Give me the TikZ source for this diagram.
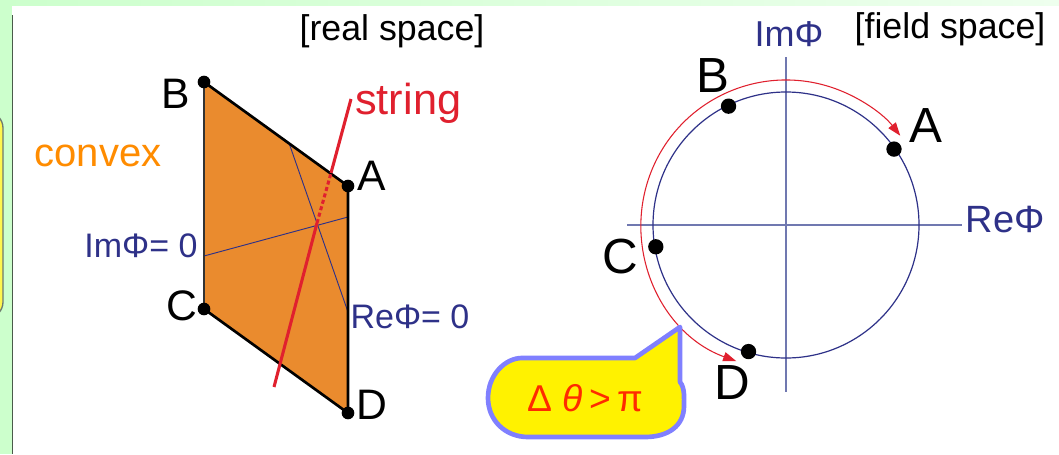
\documentclass[tikz,border=0pt]{standalone}
\usepackage{fontspec}
\setmainfont{Liberation Sans}
\usetikzlibrary{arrows.meta,calc}
\definecolor{bggreen}{HTML}{CCFFCC}
\definecolor{bggreenlt}{HTML}{EEFFEE}
\definecolor{edgegray}{HTML}{4A5A4A}
\definecolor{orangefill}{HTML}{EA8B2E}
\definecolor{navy}{HTML}{2E3188}
\definecolor{axisblue}{HTML}{7078B0}
\definecolor{strred}{HTML}{E0202E}
\definecolor{convexor}{HTML}{FF8C00}
\definecolor{callblue}{HTML}{8080FF}
\definecolor{callred}{HTML}{FF2A00}
\newcommand{\fs}[1]{\fontsize{#1}{#1}\selectfont}
\tikzset{
  lbl/.style={inner sep=0pt, font=\fs{32pt}},
  flbl/.style={inner sep=0pt, font=\fs{37pt}},
  navylbl/.style={inner sep=0pt, text=navy, font=\fs{25.5pt}},
  dotreal/.style={circle, fill=black, inner sep=0pt, minimum size=9.5pt},
  dotfield/.style={circle, fill=black, inner sep=0pt, minimum size=11.5pt},
  thinnavy/.style={navy, line width=0.7pt},
  axis/.style={axisblue, line width=1.1pt},
}
\begin{document}
\begin{tikzpicture}[x=0.75pt,y=-0.75pt]
\useasboundingbox (0,0) rectangle (1059,454);
% background
\fill[white] (0,0) rectangle (1059,454);
\shade[left color=bggreen, right color=bggreenlt] (0,0) rectangle (1059,5);
\fill[bggreen] (0,0) rectangle (12,454);
\begin{scope}
\clip (0,0) rectangle (12,454);
\draw[fill=yellow!70!white, draw=edgegray!80, line width=1pt, rounded corners=12pt] (-40,112) rectangle (3,318);
\end{scope}
\draw[edgegray, line width=1.2pt] (12.5,15) -- (12.5,454);

% ---------- real space ----------
\coordinate (B) at (204,82);
\coordinate (A) at (348,186);
\coordinate (D) at (348,413);
\coordinate (C) at (204,309);
\fill[orangefill] (B) -- (A) -- (D) -- (C) -- cycle;
\coordinate (imL) at (204,256);
\coordinate (imR) at (348,217);
\coordinate (reT) at (289,143);
\coordinate (reB) at (348,312);
\draw[thinnavy] (imL) -- (imR);
\draw[thinnavy] (reT) -- (reB);
\draw[black!80, line width=1.4pt] (B) -- (C);
\draw[black, line width=2pt, line join=round] (C) -- (D) -- (A) -- (B);
% string
\coordinate (sBot) at (274,387);
\coordinate (sMid) at (317,223);
\coordinate (sEdge) at (331,173);
\coordinate (sTop) at (351,99);
\draw[strred, line width=2.3pt] (sBot) -- (sMid);
\draw[strred, line width=2.3pt, dash pattern=on 3pt off 2pt] (sMid) -- (sEdge);
\draw[strred, line width=2.3pt] (sEdge) -- (sTop);
\node[dotreal] (dB) at (B) {};
\node[dotreal] (dA) at (A) {};
\node[dotreal] (dC) at (C) {};
\node[dotreal] (dD) at (D) {};
\node[lbl] (lB) at (176,94) {B};
\node[lbl] (lA) at (372,176) {A};
\node[lbl] (lC) at (182,306) {C};
\node[lbl] (lD) at (372,405) {D};
\node[inner sep=0pt, text=convexor, font=\fs{30pt}] (convex) at (98,156) {convex};
\node[inner sep=0pt, text=strred, font=\fs{32.5pt}, anchor=west] (string) at (355,103) {string};
\node[navylbl] (imz) at (141,246) {ImΦ= 0};
\node[navylbl] (rez) at (410,317) {ReΦ= 0};
\node[inner sep=0pt, font=\fs{26.8pt}] (realsp) at (392,31) {[real space]};

% ---------- field space ----------
\coordinate (O) at (786,225);
\coordinate (axL) at (627,225);
\coordinate (axR) at (962,225);
\coordinate (axT) at (786,57);
\coordinate (axB) at (786,392);
\draw[axis] (axL) -- (axR);
\draw[axis] (axT) -- (axB);
\draw[navy, line width=0.9pt] (O) circle[radius=133];
\draw[strred, line width=0.8pt, {Triangle[length=10pt,width=7pt]}-{Triangle[length=10pt,width=7pt]}]
  ($(O)+(-250:145)$) arc[start angle=-250, end angle=-38, radius=145];
\node[dotfield] (fB) at ($(O)+(-115.8:132)$) {};
\node[dotfield] (fA) at ($(O)+(-35.1:132)$) {};
\node[dotfield] (fC) at ($(O)+(-189.5:132)$) {};
\node[dotfield] (fD) at ($(O)+(-253.5:132)$) {};
\node[flbl] (flB) at (713,76) {B};
\node[flbl] (flA) at (926,126) {A};
\node[flbl] (flC) at (620,257) {C};
\node[flbl] (flD) at (732,383) {D};
\node[inner sep=0pt, text=navy, font=\fs{27pt}] (imphi) at (789,34) {ImΦ};
\node[inner sep=0pt, text=navy, font=\fs{28.5pt}] (rephi) at (1005,220) {ReΦ};
\node[inner sep=0pt, font=\fs{26.8pt}] (fieldsp) at (950,29) {[field space]};

% callout
\draw[callblue, line width=3.5pt, fill=yellow, line join=round]
  (522,358) -- (635,358) -- (680,327) -- (680,382)
  .. controls (685,388) and (684,398) .. (684,406)
  .. controls (684,426) and (668,437) .. (645,437)
  -- (528,437)
  .. controls (505,437) and (488,420) .. (488,398)
  .. controls (488,375) and (505,358) .. (522,358) -- cycle;
\node[inner sep=0pt, text=callred, font=\fs{28pt}] (dtheta) at (585,398) {Δ\;\textit{θ}\,>\,π};
\end{tikzpicture}
\end{document}
